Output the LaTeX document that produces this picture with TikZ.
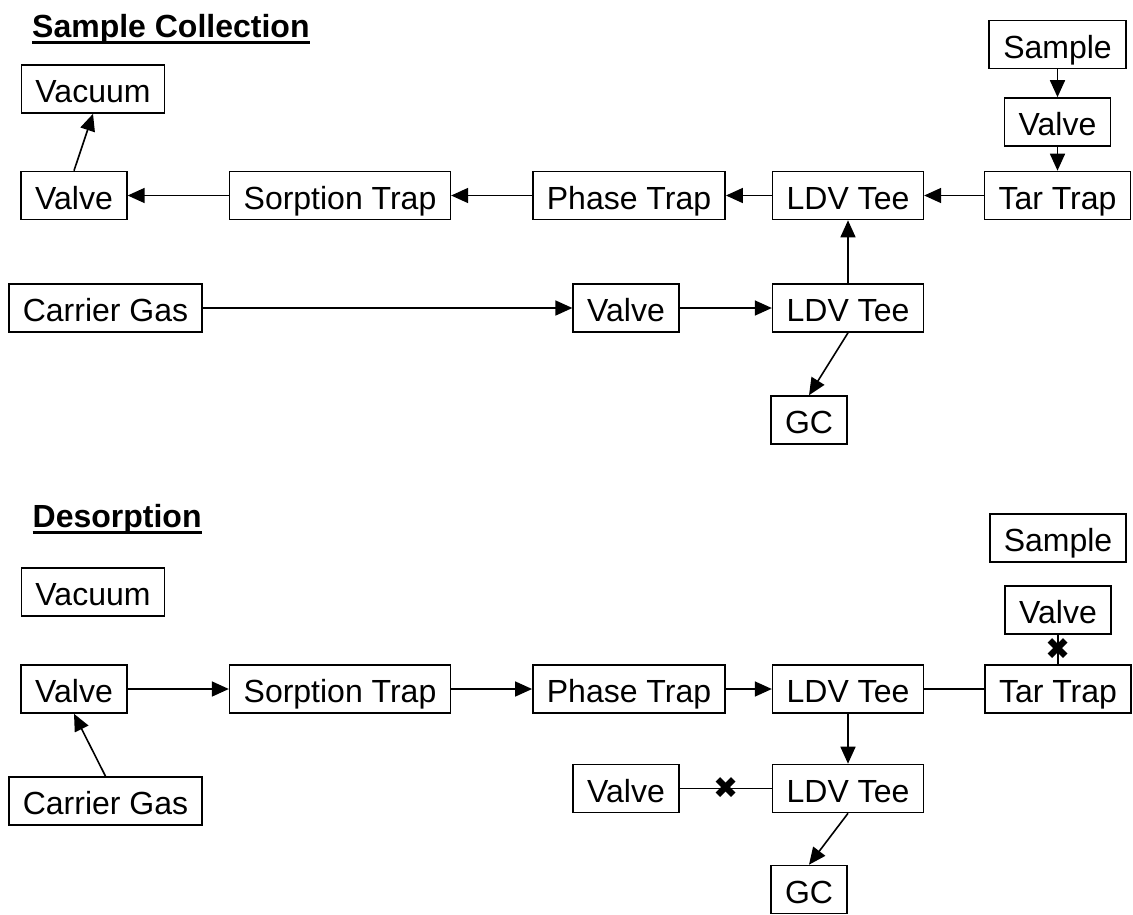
\documentclass[tikz,border=0pt]{standalone}
\usepackage{fontspec}
\setmainfont{Liberation Sans}
\newfontfamily\symfont{DejaVu Sans}
\usetikzlibrary{arrows.meta}
\begin{document}
\begin{tikzpicture}[x=1pt,y=-1pt,
 box/.style={draw, line width=1.6pt, inner xsep=14pt, inner ysep=0pt, minimum height=48pt, text height=27pt, text depth=0pt, font=\fontsize{32}{38}\selectfont},
 flow/.style={line width=1.6pt, -{Triangle[length=17pt,width=15pt]}},
 link/.style={line width=1.6pt},
 ttl/.style={inner sep=0pt, anchor=base west, font=\bfseries\fontsize{32}{38}\selectfont},
 uline/.style={line width=3.3pt},
 xmark/.style={inner sep=0pt, font=\symfont\fontsize{30}{30}\selectfont}]
\useasboundingbox (0,0) rectangle (1133,914);

% ---------- Sample Collection ----------
\node[ttl] (t1) at (32,37) {Sample Collection};
\draw[uline] ([yshift=-5.5pt]t1.base west) -- ([yshift=-5.5pt]t1.base east);

\node[box] (vac1) at (93,89) {Vacuum};
\node[box] (smp1) at (1057.5,44.5) {Sample};
\node[box] (vr1) at (1057.5,122) {Valve};
\node[box] (v1) at (74,195.5) {Valve};
\node[box] (s1) at (340,195.5) {Sorption Trap};
\node[box] (p1) at (629,195.5) {Phase Trap};
\node[box] (l1) at (848,195.5) {LDV Tee};
\node[box] (tar1) at (1057.5,195.5) {Tar Trap};
\node[box] (cg1) at (105.5,308) {Carrier Gas};
\node[box] (vm1) at (626,308) {Valve};
\node[box] (lm1) at (848,308) {LDV Tee};
\node[box] (gc1) at (809,420) {GC};

\draw[flow] (smp1) -- (vr1);
\draw[flow] (vr1) -- (tar1);
\draw[flow] (tar1) -- (l1);
\draw[flow] (l1) -- (p1);
\draw[flow] (p1) -- (s1);
\draw[flow] (s1) -- (v1);
\draw[flow] (v1.north) -- (vac1.south);
\draw[flow] (cg1) -- (vm1);
\draw[flow] (vm1) -- (lm1);
\draw[flow] (lm1) -- (l1);
\draw[flow] (lm1.south) -- (gc1.north);

% ---------- Desorption ----------
\node[ttl] (t2) at (32.5,527) {Desorption};
\draw[uline] ([yshift=-5.5pt]t2.base west) -- ([yshift=-5.5pt]t2.base east);

\node[box] (smp2) at (1058,538) {Sample};
\node[box] (vac2) at (93,592) {Vacuum};
\node[box] (vr2) at (1058,610) {Valve};
\node[box] (v2) at (74,689) {Valve};
\node[box] (s2) at (340,689) {Sorption Trap};
\node[box] (p2) at (629,689) {Phase Trap};
\node[box] (l2) at (848,689) {LDV Tee};
\node[box] (tar2) at (1058,689) {Tar Trap};
\node[box] (cg2) at (105.5,801) {Carrier Gas};
\node[box] (vm2) at (626,788.5) {Valve};
\node[box] (lm2) at (848,788.5) {LDV Tee};
\node[box] (gc2) at (809,889.5) {GC};

\draw[flow] (v2) -- (s2);
\draw[flow] (s2) -- (p2);
\draw[flow] (p2) -- (l2);
\draw[link] (l2) -- (tar2);
\draw[flow] (cg2.north) -- (v2.south);
\draw[flow] (l2) -- (lm2);
\draw[link] (vm2) -- node[xmark] (x1) {✖} (lm2);
\draw[flow] (lm2.south) -- (gc2.north);
\draw[link] (vr2) -- node[xmark] (x2) {✖} (tar2);
\end{tikzpicture}
\end{document}
